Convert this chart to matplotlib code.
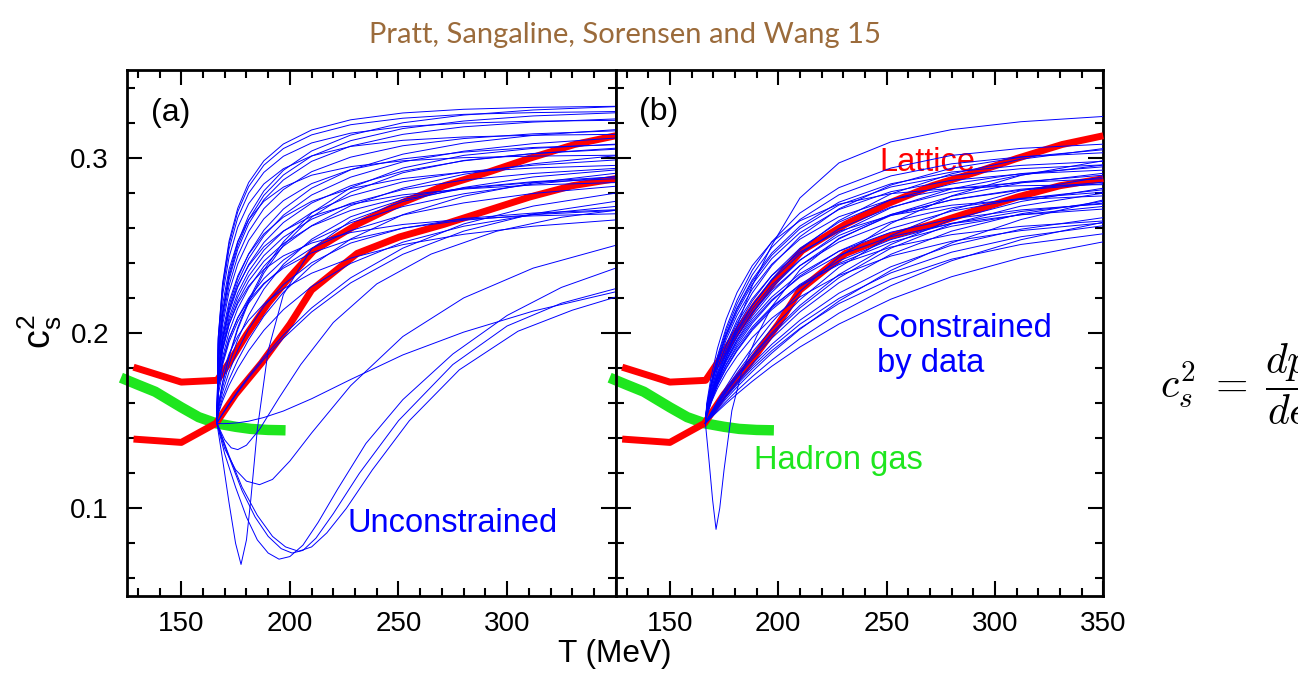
import matplotlib
matplotlib.use("Agg")
import matplotlib.pyplot as plt
from matplotlib.ticker import MultipleLocator

plt.rcParams['font.family'] = ['Liberation Sans', 'DejaVu Sans']
plt.rcParams['mathtext.fontset'] = 'custom'
plt.rcParams['mathtext.rm'] = 'Liberation Sans'
plt.rcParams['mathtext.it'] = 'Liberation Sans'

# ---------------- data ----------------
T_grid = [166.4, 167, 169, 172, 176, 181, 188, 197, 210, 228, 252, 280, 312, 350]
c_start = 0.1485

# panel (a): unconstrained curves (values at T_grid[1:])
curves_a = [
    [.1977, .2284, .2525, .2712, .2858, .2982, .3078, .3158, .3216, .3255, .3276, .3287, .3293],
    [.1857, .2110, .2321, .2498, .2646, .2785, .2901, .3009, .3097, .3166, .3209, .3238, .3256],
    [.1969, .2271, .2507, .2692, .2835, .2957, .3052, .3130, .3188, .3225, .3247, .3257, .3263],
    [.1865, .2122, .2337, .2518, .2669, .2810, .2928, .3038, .3129, .3199, .3243, .3272, .3291],
    [.1850, .2098, .2305, .2478, .2623, .2760, .2873, .2979, .3066, .3133, .3176, .3203, .3221],
    [.1772, .1977, .2157, .2315, .2451, .2586, .2707, .2826, .2931, .3020, .3083, .3127, .3160],
    [.1955, .2249, .2479, .2658, .2797, .2916, .3008, .3084, .3140, .3177, .3197, .3208, .3213],
    [.1835, .2073, .2272, .2439, .2578, .2709, .2818, .2920, .3003, .3068, .3109, .3136, .3153],
    [.1764, .1963, .2138, .2291, .2424, .2554, .2672, .2787, .2889, .2976, .3037, .3080, .3112],
    [.1933, .2214, .2433, .2604, .2737, .2850, .2937, .3010, .3064, .3099, .3118, .3128, .3133],
    [.1700, .1861, .2008, .2140, .2258, .2380, .2495, .2612, .2726, .2826, .2905, .2965, .3011],
    [.1819, .2045, .2235, .2394, .2527, .2651, .2755, .2852, .2932, .2993, .3032, .3058, .3074],
    [.1742, .1926, .2088, .2229, .2351, .2472, .2580, .2687, .2782, .2862, .2918, .2957, .2987],
    [.1900, .2161, .2364, .2523, .2646, .2751, .2832, .2900, .2949, .2982, .3000, .3009, .3014],
    [.1584, .1718, .1870, .2031, .2188, .2358, .2520, .2684, .2829, .2941, .3013, .3053, .3077],
    [.1683, .1831, .1967, .2088, .2198, .2310, .2416, .2524, .2629, .2721, .2794, .2849, .2892],
    [.1794, .2004, .2179, .2326, .2449, .2565, .2661, .2751, .2824, .2881, .2917, .2941, .2956],
    [.1545, .1632, .1735, .1846, .1962, .2096, .2232, .2384, .2536, .2675, .2780, .2856, .2911],
    [.1725, .1897, .2049, .2181, .2296, .2409, .2510, .2610, .2699, .2774, .2827, .2863, .2891],
    [.1571, .1689, .1822, .1963, .2101, .2250, .2392, .2535, .2663, .2761, .2823, .2859, .2880],
    [.1773, .1969, .2132, .2270, .2384, .2492, .2582, .2666, .2734, .2788, .2821, .2844, .2858],
    [.1500, .1540, .1596, .1669, .1754, .1863, .1988, .2143, .2315, .2484, .2622, .2724, .2798],
    [.1692, .1841, .1971, .2086, .2185, .2283, .2370, .2457, .2533, .2598, .2643, .2675, .2699],
    [.1559, .1662, .1779, .1902, .2022, .2152, .2276, .2401, .2513, .2598, .2653, .2684, .2703],
    [.1537, .1612, .1702, .1798, .1898, .2015, .2133, .2265, .2397, .2518, .2609, .2675, .2722],
    [.1735, .1906, .2049, .2168, .2268, .2362, .2440, .2513, .2573, .2619, .2649, .2668, .2680],
    [.1499, .1538, .1592, .1662, .1744, .1850, .1970, .2120, .2286, .2449, .2581, .2680, .2751],
    [.1648, .1770, .1881, .1982, .2072, .2165, .2252, .2341, .2427, .2504, .2563, .2609, .2645],
    [.1484, .1483, .1484, .1488, .1497, .1518, .1555, .1625, .1735, .1875, .2005, .2125, .2235],
    [.1754, .1946, .2115, .2262, .2390, .2516, .2630, .2741, .2840, .2923, .2982, .3023, .3054],
    [.1734, .1912, .2068, .2205, .2324, .2441, .2546, .2649, .2740, .2818, .2872, .2910, .2939],
    [.1582, .1714, .1863, .2021, .2175, .2342, .2501, .2661, .2804, .2914, .2984, .3024, .3048],
    [.1675, .1817, .1948, .2065, .2170, .2278, .2380, .2483, .2584, .2673, .2742, .2796, .2837],
]

# panel (a): curves that dip before rising
dips_a_T = [
    [166.4, 169, 172, 175, 177.5, 180, 182, 185, 190, 197, 210, 228, 252, 280, 312, 350],
    [166.4, 170, 175, 180, 186, 192, 200, 210, 228, 252, 280, 312, 350],
    [166.4, 170, 173, 176, 180, 186, 195, 205, 220, 240, 265, 295, 325, 350],
    [166.4, 170, 175, 180, 185, 190, 195, 200, 206, 213, 222, 235, 252, 275, 300, 325, 350],
    [166.4, 172, 178, 184, 190, 196, 201, 206, 212, 220, 232, 250, 275, 300, 325, 350],
    [166.4, 172, 178, 185, 192, 198, 204, 210, 217, 226, 238, 255, 278, 305, 330, 350],
]
dips_a_c = [
    [.1485, .128, .103, .080, .068, .082, .105, .145, .190, .222, .248, .264, .275, .283, .289, .293],
    [.1485, .134, .122, .1155, .1135, .1165, .127, .143, .170, .198, .220, .237, .250],
    [.1485, .139, .1345, .1335, .136, .145, .163, .182, .206, .228, .245, .258, .266, .270],
    [.1485, .131, .112, .095, .082, .0745, .071, .0725, .079, .092, .111, .137, .162, .188, .210, .226, .237],
    [.1485, .129, .110, .095, .084, .077, .0745, .076, .083, .097, .120, .150, .182, .204, .217, .2253],
    [.1485, .130, .112, .096, .084, .078, .0755, .078, .086, .100, .122, .150, .179, .201, .213, .2205],
]

# panel (b): constrained by data (values at T_grid[1:])
curves_b = [
    [.1520, .1600, .1710, .1860, .2040, .2270, .2500, .2770, .2970, .3090, .3160, .3205, .3235],
    [.1552, .1647, .1761, .1882, .2009, .2156, .2307, .2474, .2641, .2793, .2908, .2991, .3052],
    [.1563, .1671, .1799, .1935, .2073, .2228, .2384, .2549, .2708, .2844, .2940, .3003, .3045],
    [.1580, .1711, .1858, .2014, .2166, .2331, .2488, .2647, .2788, .2896, .2965, .3005, .3028],
    [.1558, .1659, .1779, .1907, .2036, .2182, .2328, .2483, .2632, .2760, .2850, .2909, .2948],
    [.1548, .1637, .1744, .1858, .1978, .2116, .2257, .2414, .2571, .2714, .2822, .2901, .2958],
    [.1574, .1696, .1834, .1980, .2122, .2277, .2424, .2572, .2704, .2806, .2871, .2907, .2929],
    [.1503, .1548, .1613, .1695, .1793, .1917, .2060, .2237, .2433, .2625, .2782, .2899, .2983],
    [.1545, .1632, .1735, .1846, .1962, .2096, .2232, .2384, .2536, .2675, .2780, .2856, .2911],
    [.1555, .1653, .1770, .1893, .2018, .2159, .2300, .2450, .2594, .2718, .2804, .2862, .2900],
    [.1571, .1689, .1822, .1963, .2101, .2250, .2392, .2535, .2663, .2761, .2823, .2859, .2880],
    [.1501, .1544, .1605, .1682, .1773, .1890, .2024, .2190, .2374, .2555, .2702, .2812, .2891],
    [.1541, .1622, .1718, .1822, .1931, .2055, .2182, .2325, .2467, .2596, .2695, .2766, .2817],
    [.1550, .1642, .1750, .1865, .1981, .2113, .2244, .2384, .2519, .2634, .2714, .2768, .2803],
    [.1500, .1540, .1596, .1669, .1754, .1863, .1988, .2143, .2315, .2484, .2622, .2724, .2798],
    [.1537, .1612, .1702, .1798, .1898, .2015, .2133, .2265, .2397, .2518, .2609, .2675, .2722],
    [.1564, .1674, .1798, .1929, .2057, .2195, .2327, .2461, .2580, .2671, .2729, .2762, .2782],
    [.1499, .1538, .1592, .1662, .1744, .1850, .1970, .2120, .2286, .2449, .2581, .2680, .2751],
    [.1545, .1630, .1730, .1837, .1945, .2067, .2189, .2318, .2443, .2549, .2624, .2674, .2707],
    [.1498, .1533, .1584, .1649, .1725, .1823, .1935, .2073, .2227, .2378, .2501, .2592, .2658],
    [.1532, .1602, .1685, .1774, .1867, .1974, .2084, .2206, .2328, .2439, .2523, .2584, .2628],
    [.1497, .1531, .1580, .1642, .1715, .1809, .1917, .2050, .2197, .2343, .2461, .2549, .2612],
    [.1496, .1529, .1576, .1636, .1706, .1796, .1899, .2026, .2168, .2307, .2421, .2505, .2566],
    [.1494, .1521, .1560, .1610, .1671, .1751, .1845, .1968, .2113, .2270, .2412, .2532, .2632],
    [.1492, .1517, .1552, .1598, .1652, .1724, .1810, .1920, .2051, .2193, .2321, .2429, .2520],
    [.1576, .1700, .1842, .1990, .2136, .2293, .2443, .2595, .2730, .2833, .2899, .2937, .2959],
    [.1599, .1750, .1914, .2079, .2231, .2384, .2518, .2640, .2735, .2795, .2825, .2840, .2846],
    [.1552, .1648, .1760, .1879, .1999, .2136, .2272, .2417, .2556, .2676, .2759, .2815, .2852],
    [.1577, .1703, .1846, .1997, .2144, .2304, .2456, .2609, .2746, .2851, .2918, .2956, .2979],
    [.1538, .1614, .1705, .1803, .1905, .2023, .2143, .2277, .2411, .2533, .2626, .2693, .2741],
    [.1546, .1633, .1736, .1845, .1956, .2081, .2205, .2338, .2466, .2575, .2651, .2702, .2736],
    [.1584, .1718, .1870, .2031, .2188, .2358, .2520, .2684, .2829, .2941, .3013, .3053, .3077],
    [.1541, .1622, .1716, .1817, .1919, .2034, .2150, .2272, .2390, .2490, .2561, .2608, .2639],
    [.1500, .1541, .1599, .1673, .1760, .1871, .1999, .2157, .2333, .2505, .2646, .2750, .2826],
    [.1495, .1525, .1568, .1625, .1692, .1780, .1885, .2021, .2182, .2357, .2514, .2647, .2759],
]

dip_b_T = [166.4, 168, 169.7, 171.3, 173, 175, 178.6, 183, 190, 197, 210, 228, 252, 280, 312, 350]
dip_b_c = [.1485, .128, .105, .088, .100, .122, .1557, .177, .198, .215, .236, .254, .267, .276, .282, .286]

# lattice (red)
lat_hi_T = [128, 150, 166.5, 172, 180, 190, 200, 211, 231, 251, 271, 292, 310, 331, 350]
lat_hi_c = [.1805, .172, .173, .183, .199, .217, .232, .247, .262, .274, .284, .292, .2995, .3075, .3125]
lat_lo_T = [128, 150, 166, 175, 187, 200, 210, 231, 250.5, 271, 290, 310.5, 330, 350]
lat_lo_c = [.1395, .1376, .1485, .165, .183, .205, .2245, .2454, .2548, .262, .2695, .2776, .284, .288]

# hadron gas (green)
hg_T = [122.2, 130, 138, 150, 158, 166, 175, 182, 190, 198]
hg_c = [.1745, .1705, .1665, .1576, .152, .1485, .1465, .1453, .1447, .1445]

xticks = [150, 200, 250, 300, 350]
xlabels_a = ['150', '200', '250', '300', '']
xlabels_b = ['150', '200', '250', '300', '350']
yticks = [0.1, 0.2, 0.3]
ylabels = ['0.1', '0.2', '0.3']

# ---------------- figure ----------------
W, H = 1298, 687
fig = plt.figure(figsize=(W / 100, H / 100), dpi=100)
bot = 1 - 596 / H
hgt = (596 - 70) / H
ax_a = fig.add_axes([127 / W, bot, (615.7 - 127) / W, hgt])
ax_b = fig.add_axes([615.7 / W, bot, (1103.3 - 615.7) / W, hgt])

BLUE = '#0000ff'
RED = '#ff0000'
GREEN = '#1ee61e'

for ax in (ax_a, ax_b):
    ax.plot(hg_T, hg_c, color=GREEN, lw=7.5, solid_capstyle='butt', clip_on=False, zorder=2)
    ax.plot(lat_hi_T, lat_hi_c, color=RED, lw=5, solid_capstyle='butt', clip_on=False, zorder=3)
    ax.plot(lat_lo_T, lat_lo_c, color=RED, lw=5, solid_capstyle='butt', clip_on=False, zorder=3)

for vals in curves_a:
    ax_a.plot(T_grid, [c_start] + vals, color=BLUE, lw=0.7, zorder=4)
for tt, cc in zip(dips_a_T, dips_a_c):
    ax_a.plot(tt, cc, color=BLUE, lw=0.7, zorder=4)
for vals in curves_b:
    ax_b.plot(T_grid, [c_start] + vals, color=BLUE, lw=0.7, zorder=4)
ax_b.plot(dip_b_T, dip_b_c, color=BLUE, lw=0.7, zorder=4)

for ax, xl in ((ax_a, xlabels_a), (ax_b, xlabels_b)):
    ax.set_xlim(125, 350)
    ax.set_ylim(0.05, 0.35)
    ax.set_xticks(xticks)
    ax.set_xticklabels(xl)
    ax.set_yticks(yticks)
    ax.set_yticklabels(ylabels)
    ax.xaxis.set_minor_locator(MultipleLocator(10))
    ax.yaxis.set_minor_locator(MultipleLocator(0.02))
    ax.tick_params(which='both', direction='in', top=True, right=True, width=1.5, labelsize=20)
    ax.tick_params(which='major', length=11)
    ax.tick_params(which='minor', length=6)
    ax.tick_params(axis='x', pad=10.5)
    ax.tick_params(axis='y', pad=13)
    for s in ax.spines.values():
        s.set_linewidth(2)
ax_b.tick_params(labelleft=False)

# annotations
ax_a.text(136, 0.3209, '(a)', fontsize=23, va='baseline')
ax_b.text(135.9, 0.3214, '(b)', fontsize=23, va='baseline')
ax_a.text(226.3, 0.0866, 'Unconstrained', color=BLUE, fontsize=23.5, va='baseline')
ax_b.text(246.7, 0.2925, 'Lattice', color=RED, fontsize=23.5, va='baseline')
ax_b.text(245.5, 0.1976, 'Constrained', color=BLUE, fontsize=23.5, va='baseline')
ax_b.text(245.5, 0.1776, 'by data', color=BLUE, fontsize=23.5, va='baseline')
ax_b.text(188.9, 0.1224, 'Hadron gas', color=GREEN, fontsize=23.5, va='baseline')

fig.text(614.6 / W, 1 - 662 / H, 'T (MeV)', fontsize=22.7, ha='center', va='baseline')
fig.text(40 / W, 1 - 332 / H, r'$\mathregular{c_s^2}$', fontsize=27, rotation=90,
         ha='center', va='center')
fig.text(625 / W, 1 - 43 / H, 'Pratt, Sangaline, Sorensen and Wang 15', color='#9b6b3b',
         fontsize=21, ha='center', va='baseline', family=['Lato', 'DejaVu Sans'])
fig.text(1160 / W, 1 - 384 / H, r'$c_s^2 \;=\; \dfrac{dp}{d\epsilon}$', fontsize=30,
         ha='left', va='center', math_fontfamily='cm')

fig.savefig('out.png', dpi=100)
